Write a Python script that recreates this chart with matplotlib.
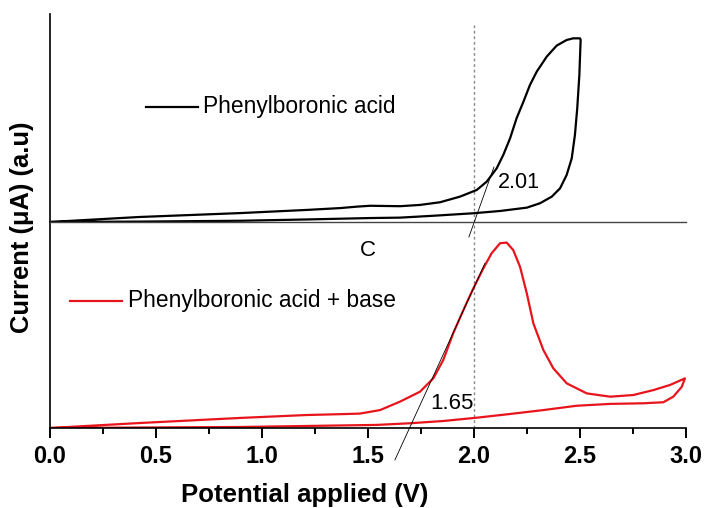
import matplotlib
matplotlib.use('Agg')
import matplotlib.pyplot as plt
import numpy as np

plt.rcParams['font.family'] = ['Liberation Sans', 'DejaVu Sans']

# black curve (top panel), potential in V, current in a.u.
pba_fwd_x = [0.0, 0.42, 0.90, 1.21, 1.37, 1.45, 1.51, 1.651, 1.745, 1.840, 1.934, 2.013,
             2.060, 2.107, 2.138, 2.170, 2.201, 2.233, 2.264, 2.296, 2.343, 2.390, 2.437,
             2.468, 2.500]
pba_fwd_y = [0.0, 0.024, 0.043, 0.058, 0.067, 0.074, 0.078, 0.076, 0.082, 0.095, 0.122, 0.154,
             0.194, 0.258, 0.322, 0.402, 0.499, 0.578, 0.659, 0.723, 0.795, 0.848, 0.875,
             0.883, 0.883]
pba_rev_x = [2.503, 2.497, 2.487, 2.476, 2.461, 2.437, 2.406, 2.367, 2.311, 2.249, 2.123,
             1.997, 1.808, 1.651, 1.51, 1.20, 0.90, 0.42, 0.0]
pba_rev_y = [0.875, 0.707, 0.547, 0.418, 0.306, 0.226, 0.162, 0.122, 0.090, 0.069, 0.053,
             0.042, 0.030, 0.021, 0.019, 0.012, 0.006, 0.002, 0.0]

# red curve (bottom panel)
base_fwd_x = [0.0, 0.42, 0.90, 1.21, 1.40, 1.462, 1.557, 1.651, 1.745, 1.808, 1.855, 1.902,
              1.950, 1.997, 2.044, 2.083, 2.123, 2.154, 2.185, 2.217, 2.249, 2.280, 2.327,
              2.374, 2.437, 2.532, 2.642, 2.751, 2.846, 2.925, 2.995]
base_fwd_y = [0.0, 0.024, 0.049, 0.063, 0.068, 0.070, 0.087, 0.128, 0.176, 0.241, 0.330, 0.460,
              0.573, 0.678, 0.775, 0.848, 0.897, 0.900, 0.864, 0.783, 0.654, 0.508, 0.379,
              0.290, 0.217, 0.168, 0.152, 0.160, 0.184, 0.209, 0.241]
base_rev_x = [2.980, 2.940, 2.893, 2.799, 2.642, 2.484, 2.327, 2.170, 2.013, 1.855, 1.698,
              1.541, 0.90, 0.0]
base_rev_y = [0.200, 0.152, 0.125, 0.120, 0.117, 0.108, 0.087, 0.068, 0.050, 0.034, 0.023,
              0.015, 0.005, 0.0]

# onset tangent lines
tan_top_x = [1.976, 2.094]
tan_top_y = [-0.072, 0.264]
tan_bot_x = [1.627, 2.052]
tan_bot_y = [-0.155, 0.80]

xticks = [0.0, 0.5, 1.0, 1.5, 2.0, 2.5, 3.0]

fig = plt.figure(figsize=(7.05, 5.08), dpi=100)
L, R = 50 / 705, 686 / 705
ax2 = fig.add_axes([L, 80 / 508, R - L, 206 / 508])
ax1 = fig.add_axes([L, 286 / 508, R - L, 208 / 508], sharex=ax2)

for ax in (ax1, ax2):
    ax.spines['top'].set_visible(False)
    ax.spines['right'].set_visible(False)
    ax.spines['left'].set_linewidth(1.2)
    ax.set_yticks([])
    ax.set_ylim(0, 1)
    ax.patch.set_alpha(0)

# dotted guide at 2.0 V through both panels
ax1.axvline(2.0, ymax=0.947, color='#888888', linestyle=(0, (2, 2)), linewidth=1.0)
ax2.axvline(2.0, color='#888888', linestyle=(0, (2, 2)), linewidth=1.0)

ax1.spines['bottom'].set_linewidth(1.0)
ax1.spines['bottom'].set_color('#444444')
ax1.tick_params(axis='x', which='both', bottom=False, labelbottom=False)
ax2.spines['bottom'].set_linewidth(1.2)

ax2.set_xlim(0, 3.0)
ax2.set_xticks(xticks)
ax2.set_xticks(np.arange(0.25, 3.0, 0.5), minor=True)
ax2.set_xticklabels([f'{t:.1f}' for t in xticks], fontsize=17, fontweight='bold')
ax2.tick_params(axis='x', which='major', length=7, width=1.4, pad=5)
ax2.tick_params(axis='x', which='minor', length=4, width=1.4)

ax1.plot(pba_fwd_x + pba_rev_x, pba_fwd_y + pba_rev_y, color='black', linewidth=1.6,
         solid_joinstyle='round')
ax2.plot(base_fwd_x + base_rev_x, base_fwd_y + base_rev_y, color='#e8141b', linewidth=1.6,
         solid_joinstyle='round')

ax1.plot(tan_top_x, tan_top_y, color='black', linewidth=0.6, clip_on=False)
ax2.plot(tan_bot_x, tan_bot_y, color='black', linewidth=0.6, clip_on=False)

# legend-style labels
ax1.plot([0.453, 0.698], [0.553, 0.553], color='black', linewidth=1.6)
ax1.text(0.722, 0.553, 'Phenylboronic acid', fontsize=16.4, va='center', ha='left')
ax2.plot([0.094, 0.340], [0.617, 0.617], color='#e8141b', linewidth=1.6)
ax2.text(0.368, 0.617, 'Phenylboronic acid + base', fontsize=16.4, va='center', ha='left')

ax1.text(2.113, 0.1875, '2.01', fontsize=15.5, va='center', ha='left')
ax2.text(1.792, 0.121, '1.65', fontsize=16, va='center', ha='left')
ax2.text(1.5, 0.864, 'C', fontsize=16, va='center', ha='center')

fig.text(305 / 705, 1 - 495 / 508, 'Potential applied (V)', fontsize=18.5, fontweight='bold',
         ha='center', va='center')
fig.text(22 / 705, 1 - 227 / 508, 'Current (μA) (a.u)', fontsize=18.4, fontweight='bold',
         rotation=90, ha='center', va='center')

fig.savefig('out.png', dpi=100)
